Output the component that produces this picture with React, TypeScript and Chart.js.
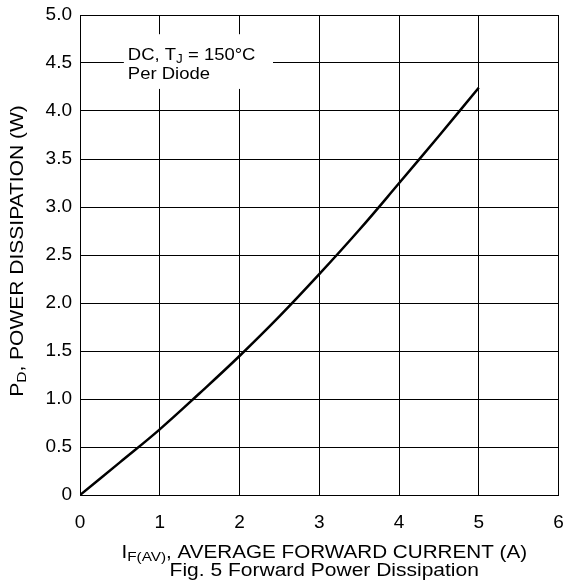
import React, { useEffect, useRef } from "react";
import { Chart, registerables } from "chart.js";

Chart.register(...registerables);

const currentA = [0, 0.5, 1, 1.5, 2, 2.5, 3, 3.5, 4, 4.5, 5];
const powerW = [0, 0.34, 0.684, 1.06, 1.448, 1.86, 2.3, 2.76, 3.247, 3.74, 4.243];
const xTicks = [0, 1, 2, 3, 4, 5, 6];
const yTicks = [0, 0.5, 1, 1.5, 2, 2.5, 3, 3.5, 4, 4.5, 5];
const noteLine1 = ["DC, T", "J", " = 150°C"];
const noteLine2 = "Per Diode";
const xTitle = ["I", "F(AV)", ", AVERAGE FORWARD CURRENT (A)"];
const yTitle = ["P", "D", ", POWER DISSIPATION (W)"];
const caption = "Fig. 5 Forward Power Dissipation";

const FONT = "Liberation Sans, Arial, sans-serif";
const TICK_FS = 19;

function drawSub(
  ctx: CanvasRenderingContext2D,
  parts: string[],
  x: number,
  y: number,
  fs: number,
  stretch: number,
  center: boolean
) {
  const big = `${fs}px ${FONT}`;
  const small = `${Math.round(fs * 0.72)}px ${FONT}`;
  ctx.font = big;
  const w0 = ctx.measureText(parts[0]).width;
  const w2 = ctx.measureText(parts[2]).width;
  ctx.font = small;
  const w1 = ctx.measureText(parts[1]).width;
  const total = (w0 + w1 + w2) * stretch;
  const startX = center ? x - total / 2 : x;
  ctx.save();
  ctx.translate(startX, y);
  ctx.scale(stretch, 1);
  ctx.textAlign = "left";
  ctx.textBaseline = "alphabetic";
  ctx.font = big;
  ctx.fillText(parts[0], 0, 0);
  ctx.font = small;
  ctx.fillText(parts[1], w0, 3);
  ctx.font = big;
  ctx.fillText(parts[2], w0 + w1, 0);
  ctx.restore();
}

function drawPlain(ctx: CanvasRenderingContext2D, text: string, x: number, y: number, fs: number, stretch: number, center: boolean) {
  ctx.save();
  ctx.font = `${fs}px ${FONT}`;
  const w = ctx.measureText(text).width * stretch;
  ctx.translate(center ? x - w / 2 : x, y);
  ctx.scale(stretch, 1);
  ctx.textAlign = "left";
  ctx.textBaseline = "alphabetic";
  ctx.fillText(text, 0, 0);
  ctx.restore();
}

const textPlugin = {
  id: "texts",
  afterDraw(chart: any) {
    const ctx = chart.ctx as CanvasRenderingContext2D;
    const { chartArea } = chart;
    const xs = chart.scales.x;
    const ys = chart.scales.y;
    ctx.save();
    // annotation box
    const bx0 = xs.getPixelForValue(0.55);
    const bx1 = xs.getPixelForValue(2.42);
    const by0 = ys.getPixelForValue(4.8);
    const by1 = ys.getPixelForValue(4.23);
    ctx.fillStyle = "#ffffff";
    ctx.fillRect(bx0, by0, bx1 - bx0, by1 - by0);
    ctx.fillStyle = "#000000";
    drawSub(ctx, noteLine1, bx0 + 4, by0 + 26, 16.5, 1.12, false);
    drawPlain(ctx, noteLine2, bx0 + 4, by0 + 45, 16.5, 1.12, false);
    // x title + caption
    const cx = (chartArea.left + chartArea.right) / 2 + 5;
    drawSub(ctx, xTitle, cx, chartArea.bottom + 63, 17.5, 1.18, true);
    drawPlain(ctx, caption, cx, chartArea.bottom + 81, 17.5, 1.2, true);
    // y title
    ctx.translate(23, (chartArea.top + chartArea.bottom) / 2 - 4);
    ctx.rotate(-Math.PI / 2);
    drawSub(ctx, yTitle, 0, 0, 17.5, 1.2, true);
    ctx.restore();
  },
};

export default function App() {
  const ref = useRef<HTMLCanvasElement>(null);
  useEffect(() => {
    const chart = new Chart(ref.current!, {
      type: "scatter",
      data: {
        datasets: [
          {
            data: currentA.map((x, i) => ({ x, y: powerW[i] })),
            showLine: true,
            borderColor: "#000",
            borderWidth: 2.5,
            pointRadius: 0,
            tension: 0.4,
          },
        ],
      },
      options: {
        responsive: false,
        animation: false,
        layout: { padding: { top: 15, right: 7.5, left: 0, bottom: 0 } },
        plugins: { legend: { display: false }, tooltip: { enabled: false } },
        scales: {
          x: {
            type: "linear",
            min: 0,
            max: 6,
            afterBuildTicks: (s: any) => { s.ticks = xTicks.map((v) => ({ value: v })); },
            afterFit: (s: any) => {
              s.height = 93;
              s.paddingLeft = 0;
              s.paddingRight = 0;
            },
            ticks: { color: "#000", font: { family: FONT, size: TICK_FS }, padding: 16 },
            grid: { color: "#000", lineWidth: 1, tickLength: 0 },
            border: { color: "#000", width: 1 },
          },
          y: {
            type: "linear",
            min: 0,
            max: 5,
            afterBuildTicks: (s: any) => { s.ticks = yTicks.map((v) => ({ value: v })); },
            afterFit: (s: any) => {
              s.width = 80;
              s.paddingTop = 0;
              s.paddingBottom = 0;
            },
            ticks: {
              color: "#000",
              font: { family: FONT, size: TICK_FS },
              padding: 8,
              callback: (v: any) => (v === 0 ? "0" : Number(v).toFixed(1)),
            },
            grid: { color: "#000", lineWidth: 1, tickLength: 0 },
            border: { color: "#000", width: 1 },
          },
        },
      },
      plugins: [textPlugin],
    } as any);
    return () => chart.destroy();
  }, []);
  return (
    <div style={{ position: "fixed", left: 0, top: 0, width: 566, height: 588, background: "#fff" }}>
      <canvas ref={ref} width={566} height={588} />
    </div>
  );
}
